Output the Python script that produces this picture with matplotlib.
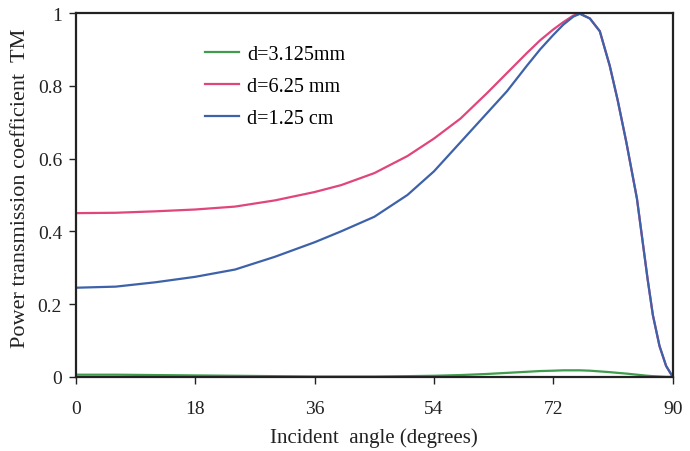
import numpy as np
import matplotlib
matplotlib.use('Agg')
import matplotlib.pyplot as plt

plt.rcParams['font.family'] = ['Liberation Serif', 'DejaVu Serif']

# incident angle (degrees)
angle = [0, 6, 12, 18, 24, 30, 36, 40, 45, 50, 54, 58, 62, 65, 68, 70, 72, 73.5, 75,
         76, 77.5, 79, 80.5, 81.7, 83, 84.6, 86.2, 87, 88, 89, 90]
# d = 3.125 mm
t_thin = [0.006, 0.006, 0.005, 0.004, 0.003, 0.002, 0.001, 0.001, 0.001, 0.002, 0.003,
          0.005, 0.008, 0.011, 0.014, 0.016, 0.017, 0.018, 0.018, 0.018, 0.017, 0.015,
          0.013, 0.011, 0.009, 0.006, 0.003, 0.002, 0.001, 0.0, 0.0]
# d = 6.25 mm
t_mid = [0.45, 0.451, 0.455, 0.46, 0.468, 0.485, 0.508, 0.527, 0.56, 0.607, 0.655, 0.71,
         0.78, 0.835, 0.89, 0.925, 0.955, 0.975, 0.993, 0.998, 0.985, 0.95, 0.855, 0.76,
         0.645, 0.49, 0.27, 0.17, 0.085, 0.03, 0.0]
# d = 1.25 cm
t_thick = [0.245, 0.248, 0.26, 0.275, 0.295, 0.33, 0.37, 0.40, 0.44, 0.50, 0.565, 0.645,
           0.725, 0.785, 0.855, 0.90, 0.94, 0.968, 0.99, 0.998, 0.985, 0.95, 0.855, 0.76,
           0.645, 0.49, 0.27, 0.17, 0.085, 0.03, 0.0]

labels = ['d=3.125mm', 'd=6.25 mm', 'd=1.25 cm']
colors = ['#3f9c4c', '#e0457c', '#3d62aa']

fig = plt.figure(figsize=(6.9, 4.52), dpi=100)
ax = fig.add_axes([0.110, 0.164, 0.865, 0.805])

for y, lab, c in zip([t_thin, t_mid, t_thick], labels, colors):
    ax.plot(angle, y, color=c, lw=1.6, label=lab)

ax.set_xlim(0, 90)
ax.set_ylim(0, 1)
ax.set_xticks([0, 18, 36, 54, 72, 90])
ax.set_yticks([0, 0.2, 0.4, 0.6, 0.8, 1])
ax.set_yticklabels(['0', '0.2', '0.4', '0.6', '0.8', '1'])
ax.tick_params(direction='out', length=5, width=1, labelsize=14, colors='#222222')
ax.tick_params(axis='x', pad=12)
ax.tick_params(axis='y', pad=5)
for s in ax.spines.values():
    s.set_linewidth(1.6)
    s.set_color('#222222')

ax.set_xlabel('Incident  angle (degrees)', fontsize=15, color='#222222', labelpad=7)
ax.set_ylabel('Power transmission coefficient  TM', fontsize=16, color='#222222')
ax.yaxis.set_label_coords(-0.077, 0.522)

ax.legend(loc='upper left', bbox_to_anchor=(0.216, 0.911), frameon=False, fontsize=14.5,
          handlelength=1.7, handletextpad=0.4, labelspacing=0.62, borderpad=0, borderaxespad=0)

fig.savefig('out.png', dpi=100)
